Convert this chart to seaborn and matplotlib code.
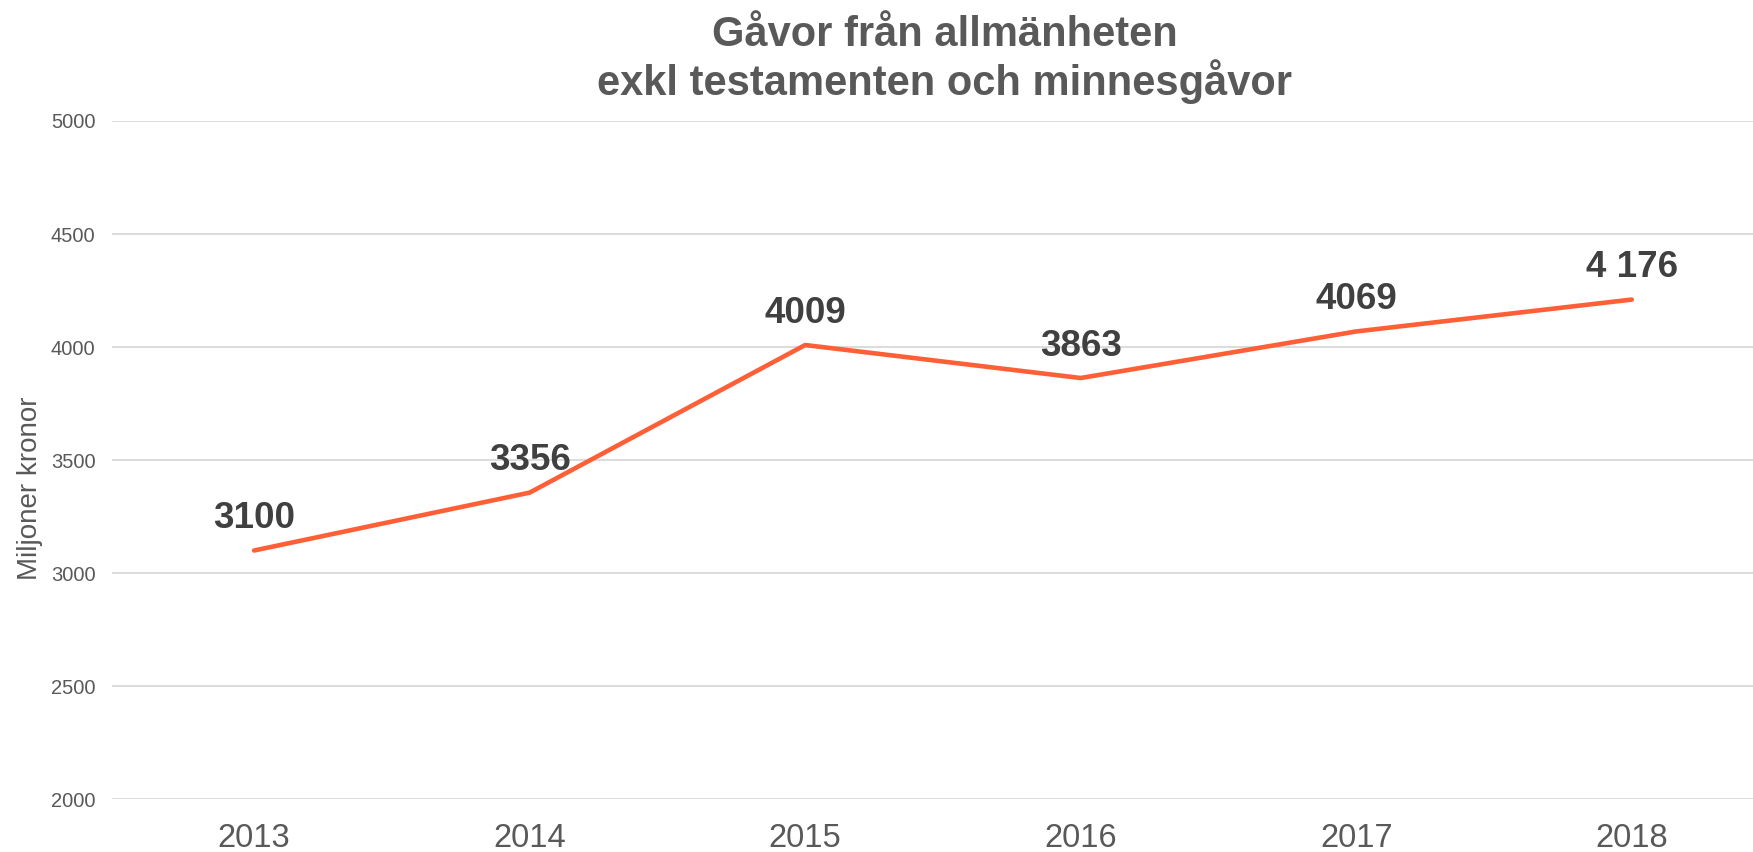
#! /usr/bin/env python3

# %% Setup
import pandas as pd
import matplotlib.pyplot as plt
import seaborn as sns

title = "Gåvor från allmänheten\nexkl testamenten och minnesgåvor"
ylabel = "Miljoner kronor"

years = ["2013", "2014", "2015", "2016", "2017", "2018"]
values = [3100, 3356, 4009, 3863, 4069, 4210]
labels = ["3100", "3356", "4009", "3863", "4069", "4 176"]
yticks = [2000, 2500, 3000, 3500, 4000, 4500, 5000]

linecolor = "#FF5F36"
textgrey = "#595959"
labelgrey = "#404040"
gridgrey = "#D9D9D9"

sns.set_style("white")
plt.rcParams["font.family"] = ["Liberation Sans", "DejaVu Sans"]

df = pd.DataFrame({"year": years, "value": values})

# %% Line plot
fig = plt.figure(figsize=(17.53, 8.52), dpi=100)
ax = fig.add_axes([0.064, 0.062, 0.936, 0.796])

sns.lineplot(x="year", y="value", data=df, color=linecolor, linewidth=3.3,
             sort=False, ax=ax, solid_capstyle="round")

# value labels sit just above each point
for i, (v, lab) in enumerate(zip(values, labels)):
    ax.annotate(lab, xy=(i, v), xytext=(0, 16), textcoords="offset points",
                ha="center", va="baseline", fontsize=26.5, fontweight="bold",
                color=labelgrey)

ax.set_ylim(2000, 5000)
ax.set_yticks(yticks)
ax.set_xlim(-0.515, 5.44)
ax.yaxis.grid(True, color=gridgrey, linewidth=1.3)
ax.set_axisbelow(True)
for s in ax.spines.values():
    s.set_visible(False)

ax.tick_params(axis="y", length=0, pad=12, labelsize=14.5, labelcolor=textgrey)
ax.tick_params(axis="x", length=0, pad=17, labelsize=23.5, labelcolor=textgrey)
ax.set_xlabel("")
ax.set_ylabel(ylabel, fontsize=20, color=textgrey)
ax.yaxis.set_label_coords(-0.042, 0.458)

fig.text(0.539, 0.982, title, ha="center", va="top", fontsize=30,
         fontweight="bold", color=textgrey, linespacing=1.12)

plt.savefig("out.png", dpi=100)
